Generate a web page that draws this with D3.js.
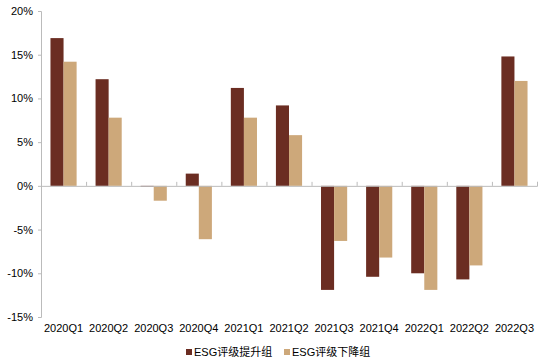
<!DOCTYPE html>
<html>
<head>
<meta charset="utf-8">
<script src="https://cdn.jsdelivr.net/npm/d3@7"></script>
<style>
  body { margin: 0; background: #fff; }
  text { font-family: "Liberation Sans", Arial, "Noto Sans CJK SC", sans-serif; fill: #000; }
</style>
</head>
<body>
<div id="chart"></div>
<script>
var quarters = ["2020Q1", "2020Q2", "2020Q3", "2020Q4", "2021Q1", "2021Q2",
  "2021Q3", "2021Q4", "2022Q1", "2022Q2", "2022Q3"];
var upgraded = [16.9, 12.2, -0.1, 1.4, 11.2, 9.2, -11.9, -10.4, -10.0, -10.7, 14.8];
var downgraded = [14.2, 7.8, -1.7, -6.1, 7.8, 5.8, -6.3, -8.2, -11.9, -9.1, 12.0];
var seriesNames = ["ESG评级提升组", "ESG评级下降组"];
var colors = ["#6b2d22", "#cda87a"];
var yTicks = [-15, -10, -5, 0, 5, 10, 15, 20];

var svgWidth = 550;
var svgHeight = 363;
var margin = { top: 11, right: 13, bottom: 46, left: 41 };
var width = svgWidth - margin.left - margin.right;
var height = svgHeight - margin.top - margin.bottom;

var svg = d3.select("#chart")
  .append("svg")
  .attr("width", svgWidth)
  .attr("height", svgHeight);

var chartGroup = svg.append("g")
  .attr("transform", `translate(${margin.left}, ${margin.top})`);

var x0 = d3.scaleBand()
  .domain(quarters)
  .range([0, width])
  .paddingInner(0.42)
  .paddingOuter(0.21);

var x1 = d3.scaleBand()
  .domain([0, 1])
  .range([0, x0.bandwidth()]);

var yScale = d3.scaleLinear()
  .domain([-15, 20])
  .range([height, 0]);

// y axis
var leftAxis = d3.axisLeft(yScale)
  .tickValues(yTicks)
  .tickSize(3)
  .tickFormat(d => d + "%");

var yAxis = chartGroup.append("g").call(leftAxis);
yAxis.select(".domain").attr("stroke", "#bbb");
yAxis.selectAll(".tick line").attr("stroke", "#bbb");
yAxis.selectAll(".tick text")
  .attr("x", -8)
  .attr("font-size", 11);

// bars
var data = quarters.map((q, i) => ({ q: q, vals: [upgraded[i], downgraded[i]] }));

var groups = chartGroup.selectAll(".grp")
  .data(data)
  .enter()
  .append("g")
  .attr("transform", d => `translate(${x0(d.q)},0)`);

groups.selectAll("rect")
  .data(d => d.vals.map((v, k) => ({ k: k, v: v })))
  .enter()
  .append("rect")
  .attr("x", d => x1(d.k))
  .attr("width", x1.bandwidth())
  .attr("y", d => yScale(Math.max(0, d.v)))
  .attr("height", d => Math.abs(yScale(d.v) - yScale(0)))
  .attr("fill", d => colors[d.k]);

// zero line with inner ticks
var step = x0.step();
var zeroAxis = d3.axisTop(d3.scaleLinear().domain([0, quarters.length]).range([0, width]))
  .tickValues(d3.range(1, quarters.length + 1))
  .tickSize(4)
  .tickFormat("");

var xAxis = chartGroup.append("g")
  .attr("transform", `translate(0, ${yScale(0)})`)
  .call(zeroAxis);
xAxis.select(".domain").attr("stroke", "#bbb");
xAxis.selectAll(".tick line").attr("stroke", "#bbb");

// category labels along bottom
chartGroup.append("g")
  .selectAll("text")
  .data(quarters)
  .enter()
  .append("text")
  .attr("x", d => x0(d) + x0.bandwidth() / 2)
  .attr("y", height + 15)
  .attr("text-anchor", "middle")
  .attr("font-size", 11)
  .text(d => d);

// legend
var legendX = [186, 284];
var legend = svg.append("g")
  .selectAll("g")
  .data(seriesNames)
  .enter()
  .append("g")
  .attr("transform", (d, i) => `translate(${legendX[i]}, 353)`);

legend.append("rect")
  .attr("x", 0)
  .attr("y", -4)
  .attr("width", 6)
  .attr("height", 6)
  .attr("fill", (d, i) => colors[i]);

legend.append("text")
  .attr("x", 8)
  .attr("y", 3)
  .attr("font-size", 11)
  .text(d => d);
</script>
</body>
</html>
